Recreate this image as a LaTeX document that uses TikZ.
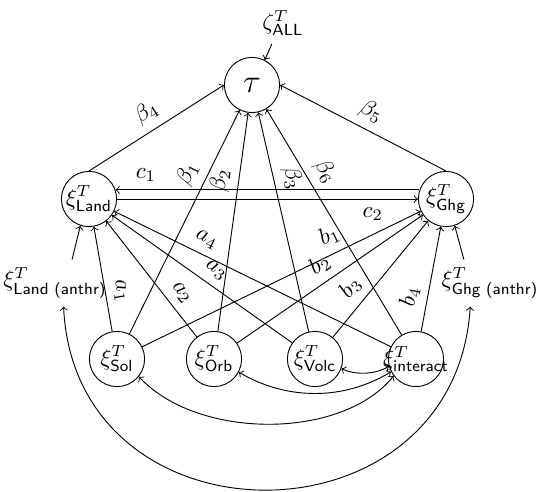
\documentclass[tikz,border=0pt]{standalone}
\usepackage{amsmath}
\begin{document}
\begin{tikzpicture}[x=0.4348pt, y=0.4348pt,
  var/.style={circle, draw, minimum size=24pt, inner sep=0pt},
  lbl/.style={sloped, above},
  every path/.style={line width=0.4pt}]
\useasboundingbox (0,0) rectangle (536,491);

% variables
\node[var, label=center:{\Large$\tau$}] (tau) at (252,406) {};
\node[var, label=center:{$\xi^{T}_{\textsf{Land}}$}] (Land) at (89,292) {};
\node[var, label=center:{$\xi^{T}_{\textsf{Ghg}}$}] (Ghg) at (446,292) {};
\node[var, label=center:{$\xi^{T}_{\textsf{Sol}}$}] (Sol) at (117,132) {};
\node[var, label=center:{$\xi^{T}_{\textsf{Orb}}$}] (Orb) at (214,132) {};
\node[var, label=center:{$\xi^{T}_{\textsf{Volc}}$}] (Volc) at (315,132) {};
\node[var, label=center:{$\xi^{T}_{\textsf{interact}}$}] (int) at (416,132) {};

% external forcings
\node (zeta) at (283,468) {$\zeta^{T}_{\textsf{ALL}}$};
\node (lanthr) at (55,208) {$\xi^{T}_{\textsf{Land (anthr)}}$};
\node (ganthr) at (490,208) {$\xi^{T}_{\textsf{Ghg (anthr)}}$};

\draw[->] (zeta.-118) -- (tau.63);
\draw[->] (lanthr.54) -- (Land.-108);
\draw[->] (ganthr.138) -- (Ghg.-72);

% effects on tau
\draw[->] (Land.north) -- node[lbl]{$\beta_4$} (tau.west);
\draw[->] (Ghg.north) -- node[lbl]{$\beta_5$} (tau.east);
\draw[->] (Sol) -- node[lbl,pos=0.68]{$\beta_1$} (tau);
\draw[->] (Orb) -- node[lbl,pos=0.68]{$\beta_2$} (tau);
\draw[->] (Volc) -- node[lbl,pos=0.68]{$\beta_3$} (tau);
\draw[->] (int) -- node[lbl,pos=0.68]{$\beta_6$} (tau);

% Land <-> Ghg
\draw[->] (Ghg.161) -- node[above,pos=0.9]{$c_1$} (Land.19);
\draw[->] (Land) -- node[below,pos=0.85]{$c_2$} (Ghg);

% effects on Land
\draw[->] (Sol) -- node[lbl,pos=0.36]{$a_1$} (Land);
\draw[->] (Orb) -- node[lbl,pos=0.3]{$a_2$} (Land);
\draw[->] (Volc) -- node[lbl,pos=0.47]{$a_3$} (Land);
\draw[->] (int) -- node[lbl,pos=0.69]{$a_4$} (Land);

% effects on Ghg
\draw[->] (Sol) -- node[lbl,pos=0.7]{$b_1$} (Ghg);
\draw[->] (Orb) -- node[lbl,pos=0.5]{$b_2$} (Ghg);
\draw[->] (Volc) -- node[lbl,pos=0.33]{$b_3$} (Ghg);
\draw[->] (int) -- node[lbl,pos=0.3]{$b_4$} (Ghg);

% correlations
\draw[<->] (Volc.-20) .. controls (355,116) and (374,116) .. (int.195);
\draw[<->] (Orb.-28) .. controls (286,91) and (343,90) .. (int.207);
\draw[<->] (Sol.-39) .. controls (198,51) and (342,51) .. (int.217);
\draw[<->] (lanthr.-70) .. controls (75,-60) and (455,-60) .. (ganthr.-130);
\end{tikzpicture}
\end{document}
